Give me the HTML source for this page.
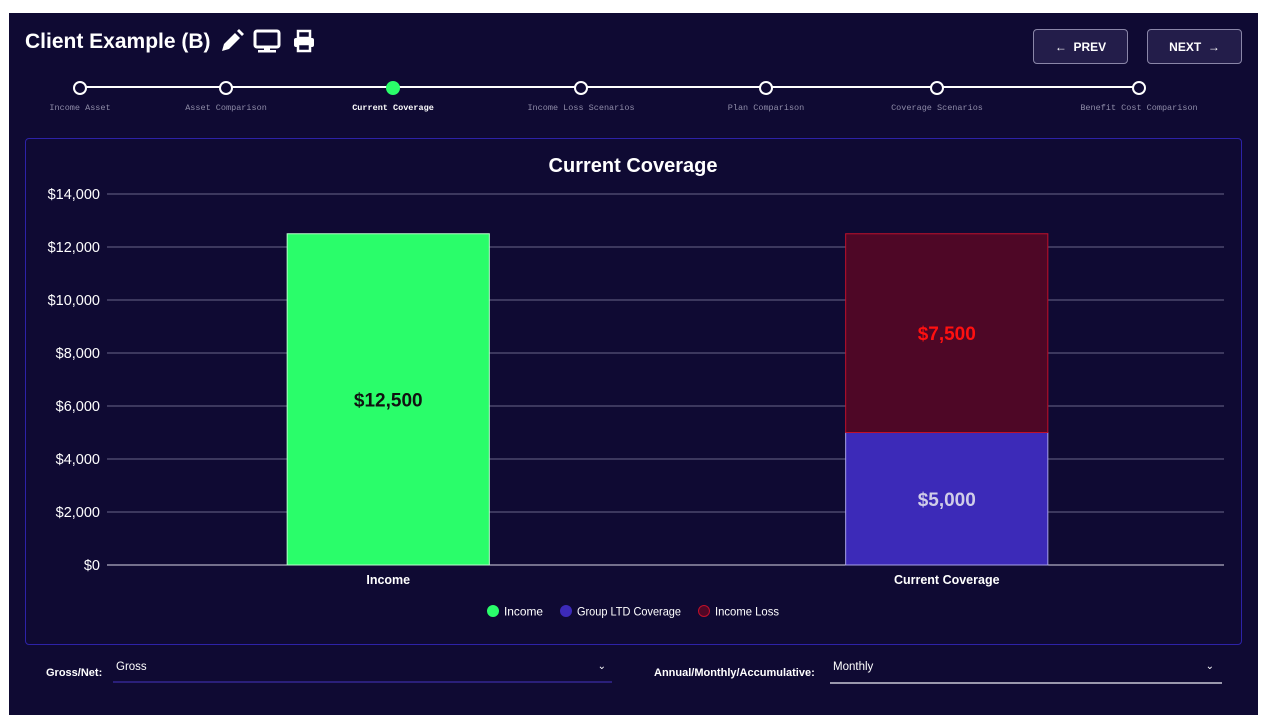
<!DOCTYPE html>
<html><head><meta charset="utf-8">
<style>
body{margin:0;background:#fff;width:1264px;height:726px;overflow:hidden;font-family:"Liberation Sans",sans-serif;}
#panel{position:absolute;left:9px;top:13px;width:1249px;height:702px;background:#0f0a33;}
.abs{position:absolute}
.btn{position:absolute;top:29px;height:35px;border:1px solid #8a86a8;border-radius:4px;background:#231d4a;color:#fff;font-weight:bold;font-size:12px;display:flex;align-items:center;justify-content:center;box-sizing:border-box}
.step{position:absolute;font-family:"Liberation Mono",monospace;font-size:8.5px;color:#8f8ca8;transform:translateX(-50%);top:103px;white-space:nowrap}
.dot{position:absolute;top:81px;width:10px;height:10px;border:2px solid #fff;border-radius:50%;background:#0f0a33;transform:translateX(-7px)}
</style></head><body>
<div id="panel"></div>
<div class="abs" style="left:25px;top:30px;color:#fff;font-size:21px;font-weight:bold">Client Example (B)</div>
<svg class="abs" style="left:220px;top:29px" width="100" height="26">
<path d="M2 22 L4 15 L15 4 L20 9 L9 20 Z M17 2 L19 0 L24 5 L22 7Z" fill="#fff"/>
<g><rect x="35" y="2" width="24" height="16" rx="2" fill="none" stroke="#fff" stroke-width="3"/><rect x="44" y="18" width="6" height="4" fill="#fff"/><rect x="38" y="21" width="18" height="2.5" fill="#fff"/></g>
<g><rect x="78" y="2" width="12" height="7" fill="none" stroke="#fff" stroke-width="2.5"/><rect x="74" y="9" width="20" height="9" rx="2" fill="#fff"/><rect x="78" y="15" width="12" height="7" fill="#0f0a33" stroke="#fff" stroke-width="2.5"/></g>
</svg>
<div class="btn" style="left:1033px;width:95px">← &nbsp;PREV</div>
<div class="btn" style="left:1147px;width:95px">NEXT &nbsp;→</div>
<div class="abs" style="left:80px;top:86px;width:1060px;height:2px;background:#fff"></div>
<div id="steps"></div>
<div class="abs" style="left:25px;top:138px;width:1215px;height:505px;border:1px solid #2d22a8;border-radius:4px"></div>
<svg id="chart" class="abs" style="left:0;top:0" width="1264" height="726"></svg>
<div class="abs" style="left:46px;top:667px;color:#fff;font-size:11px;font-weight:bold">Gross/Net:</div>
<div class="abs" style="left:113px;top:661px;width:499px;height:22px;border-bottom:2px solid #2a1f7a;color:#fff;font-size:11.5px;box-sizing:border-box;padding-left:3px">Gross<span style="position:absolute;right:6px;font-size:10px">⌄</span></div>
<div class="abs" style="left:654px;top:667px;color:#fff;font-size:11px;font-weight:bold">Annual/Monthly/Accumulative:</div>
<div class="abs" style="left:830px;top:661px;width:392px;height:23px;border-bottom:2px solid #9a98ad;color:#fff;font-size:11.5px;box-sizing:border-box;padding-left:3px">Monthly<span style="position:absolute;right:8px;font-size:10px">⌄</span></div>
<script>
const stepNames=["Income Asset","Asset Comparison","Current Coverage","Income Loss Scenarios","Plan Comparison","Coverage Scenarios","Benefit Cost Comparison"];
const stepX=[80,226,393,581,766,937,1139];
const st=document.getElementById('steps');
stepNames.forEach((n,i)=>{
 const d=document.createElement('div');d.className='dot';d.style.left=stepX[i]+'px';
 if(i===2){d.style.background='#2afd6a';d.style.borderColor='#2afd6a';}
 
 
 st.appendChild(d);
 const l=document.createElement('div');l.className='step';l.style.left=stepX[i]+'px';l.textContent=n;
 if(i===2){l.style.color='#fff';l.style.fontWeight='bold';}
 
 
 st.appendChild(l);
});

const categories=["Income","Current Coverage"];
const incomeValues=[12500,0];
const groupLtdValues=[0,5000];
const incomeLossValues=[0,7500];
const yTicks=[0,2000,4000,6000,8000,10000,12000,14000];
const seriesNames=["Income","Group LTD Coverage","Income Loss"];

const svg=document.getElementById('chart');const NS='http://www.w3.org/2000/svg';
function el(t,a,txt){const e=document.createElementNS(NS,t);for(const k in a)e.setAttribute(k,a[k]);if(txt!=null)e.textContent=txt;svg.appendChild(e);return e;}
const x0=107,x1=1224,yBase=565,yTop=194,yMax=14000;
const y=v=>yBase-(v/yMax)*(yBase-yTop);
const band=(x1-x0)/categories.length,bw=band*0.362;
const xc=i=>x0+band*(i+0.5)+2;
const fmt=v=>'$'+v.toLocaleString('en-US');
let t=el('text',{x:633,y:172,fill:'#fff','font-size':20,'font-weight':'bold','text-anchor':'middle'},'Current Coverage');


yTicks.forEach(v=>{
 const g=el('line',{x1:x0,x2:x1,y1:y(v),y2:y(v),stroke:v===0?'#d8d6e6':'#6a6688','stroke-width':1});
 
 
 const l=el('text',{x:100,y:y(v)+5,fill:'#fff','font-size':14.5,'text-anchor':'end'},fmt(v));
 
 
});
const series=[[incomeValues,'#2afd6a','#b8ffcc','#111'],[groupLtdValues,'#3c2ab8','#a9a2e8','#d0cde8'],[incomeLossValues,'#4e0726','#c0102a','#ff1010']];
categories.forEach((c,i)=>{
 let base=0;
 series.forEach(([vals,fill,stroke,tc],si)=>{
  const v=vals[i];if(!v)return;
  const r=el('rect',{x:xc(i)-bw/2,y:y(base+v),width:bw,height:y(base)-y(base+v),fill:fill,stroke:stroke,'stroke-width':1});
  
  
  const l=el('text',{x:xc(i),y:(y(base)+y(base+v))/2+7,fill:tc,'font-size':19,'font-weight':'bold','text-anchor':'middle'},fmt(v));
  
  
  base+=v;
 });
 const xl=el('text',{x:xc(i),y:584,fill:'#fff','font-size':12.5,'font-weight':'bold','text-anchor':'middle'},c);
 
 
});
const legX=[493,566,704];
const legCol=[['#2afd6a','#2afd6a'],['#3c2ab8','#3c2ab8'],['#4e0726','#c0102a']];
seriesNames.forEach((n,i)=>{
 const c=el('circle',{cx:legX[i],cy:611,r:5.5,fill:legCol[i][0],stroke:legCol[i][1]});
 
 
 const l=el('text',{x:legX[i]+11,y:615.5,fill:'#fff','font-size':12,textLength:[39,104,64][i],lengthAdjust:'spacingAndGlyphs'},n);
 
 
});
</script>
</body></html>
